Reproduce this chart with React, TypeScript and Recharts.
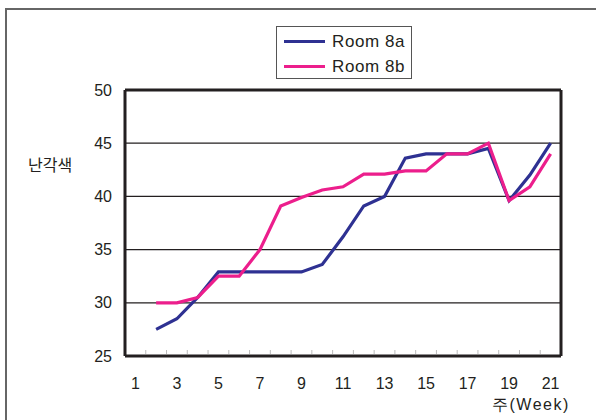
import React from 'react';
import { LineChart, Line, XAxis, YAxis, CartesianGrid, Legend, ReferenceLine } from 'recharts';

const weeks = [1, 2, 3, 4, 5, 6, 7, 8, 9, 10, 11, 12, 13, 14, 15, 16, 17, 18, 19, 20, 21];
const room8a = [null, 27.5, 28.5, 30.5, 32.9, 32.9, 32.9, 32.9, 32.9, 33.6, 36.2, 39.1, 40.0, 43.6, 44.0, 44.0, 44.0, 44.5, 39.6, 42.0, 45.0];
const room8b = [null, 30.0, 30.0, 30.5, 32.5, 32.5, 35.0, 39.1, 39.9, 40.6, 40.9, 42.1, 42.1, 42.4, 42.4, 44.0, 44.0, 45.0, 39.6, 40.9, 44.0];
const yTicks = [25, 30, 35, 40, 45, 50];
const seriesNames = ['Room 8a', 'Room 8b'];
const yLabel = '난각색';
const xLabel = '주(Week)';

const data = weeks.map((w, i) => ({ week: w, a: room8a[i], b: room8b[i] }));

const BLUE = '#2e3192';
const PINK = '#ec1e8c';
const INK = '#231f20';
const FONT = '"Liberation Sans", Arial, Helvetica, sans-serif';

const XTick = (props: any) => {
  const { x, y, payload, index } = props;
  const off = payload && typeof payload.offset === 'number' ? payload.offset : 436 / 42;
  const bx = x - off;
  const showLabel = payload.value % 2 === 1;
  return (
    <g>
      {index > 0 && <line x1={bx} x2={bx} y1={y - 6} y2={y - 2} stroke="#bbbbbb" strokeWidth={1} />}
      {showLabel && (
        <text x={x} y={y + 27} textAnchor="middle" dominantBaseline="central" fill={INK} fontSize={16} fontFamily={FONT}>
          {payload.value}
        </text>
      )}
    </g>
  );
};

const LegendBox = (props: any) => {
  const payload = props.payload || [];
  return (
    <div style={{ border: '1px solid #555', background: '#fff', width: 136, height: 53, boxSizing: 'border-box', padding: '2px 0 0 0', fontFamily: FONT }}>
      {payload.map((p: any, i: number) => (
        <div key={i} style={{ display: 'flex', alignItems: 'center', height: 25 }}>
          <div style={{ width: 41, height: 3, background: p.color, marginLeft: 7, marginRight: 7 }} />
          <span style={{ fontSize: 17, color: INK, letterSpacing: 0.6 }}>{p.value}</span>
        </div>
      ))}
    </div>
  );
};

export default function App() {
  return (
    <div style={{ position: 'absolute', left: 0, top: 0, width: 596, height: 420, overflow: 'hidden', background: '#fff' }}>
      <div style={{ position: 'absolute', left: 5, top: 8, width: 700, height: 600, border: '2px solid #666', boxSizing: 'border-box' }} />
      <div style={{ position: 'absolute', left: 0, top: 0 }}>
        <LineChart width={596} height={420} data={data} margin={{ top: 90, right: 35, bottom: 0, left: 65 }}>
          <CartesianGrid vertical={false} stroke={INK} strokeWidth={1.2} />
          <XAxis
            dataKey="week"
            scale="band"
            interval={0}
            tickLine={false}
            tickSize={0}
            tickMargin={0}
            height={64}
            axisLine={{ stroke: INK, strokeWidth: 3 }}
            tick={<XTick />}
          />
          <YAxis
            domain={[25, 50]}
            ticks={yTicks}
            width={60}
            tickLine={false}
            tickMargin={7}
            axisLine={{ stroke: INK, strokeWidth: 3 }}
            tick={{ fill: INK, fontSize: 16, fontFamily: FONT }}
          />
          <ReferenceLine y={50} stroke={INK} strokeWidth={3} />
          <ReferenceLine x={21} position="end" stroke={INK} strokeWidth={3} />
          <Legend
            layout="vertical"
            align="center"
            verticalAlign="middle"
            content={<LegendBox />}
            wrapperStyle={{ position: 'absolute', left: 276, top: 26, width: 136, height: 53 }}
          />
          <Line type="linear" dataKey="a" name={seriesNames[0]} stroke={BLUE} strokeWidth={3.2} dot={false} isAnimationActive={false} />
          <Line type="linear" dataKey="b" name={seriesNames[1]} stroke={PINK} strokeWidth={3.2} dot={false} isAnimationActive={false} />
        </LineChart>
      </div>
      <div style={{ position: 'absolute', left: 28, top: 154, fontSize: 16, fontFamily: '"Noto Sans CJK KR", sans-serif', color: INK, lineHeight: '20px' }}>
        {yLabel}
      </div>
      <div style={{ position: 'absolute', left: 492, top: 395, fontSize: 16, fontFamily: FONT, color: INK, letterSpacing: 1.5, lineHeight: '20px', whiteSpace: 'nowrap' }}>
        {xLabel}
      </div>
    </div>
  );
}
